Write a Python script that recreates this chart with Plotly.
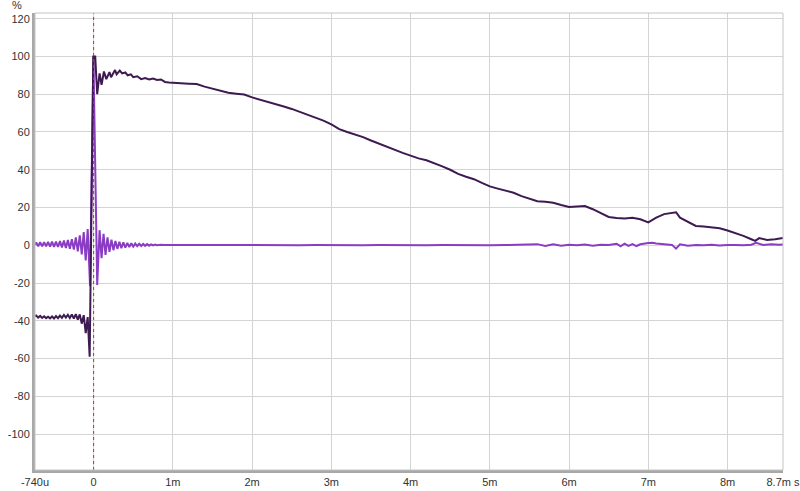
import plotly.graph_objects as go

# ---- data (time in ms, values in %) ----
step_t = [-0.74, -0.725, -0.7, -0.675, -0.65, -0.625, -0.6, -0.575, -0.55, -0.525, -0.5,
          -0.475, -0.45, -0.425, -0.4, -0.375, -0.35, -0.325, -0.3, -0.275, -0.25, -0.225,
          -0.2, -0.175, -0.15, -0.125, -0.1, -0.075, -0.05, -0.004, 0.02, 0.045, 0.075, 0.1,
          0.13, 0.16, 0.2, 0.22, 0.27, 0.29, 0.33, 0.36, 0.4, 0.43, 0.47, 0.5, 0.55, 0.6,
          0.65, 0.7, 0.75, 0.8, 0.85, 0.9, 0.95, 1.0, 1.1, 1.2, 1.3, 1.4, 1.5, 1.6, 1.7,
          1.8, 1.9, 2.0, 2.1, 2.2, 2.3, 2.4, 2.5, 2.6, 2.7, 2.8, 2.9, 3.0, 3.1, 3.2, 3.3,
          3.4, 3.5, 3.6, 3.7, 3.8, 3.9, 4.0, 4.1, 4.2, 4.3, 4.4, 4.5, 4.6, 4.7, 4.8, 4.9,
          5.0, 5.1, 5.2, 5.3, 5.4, 5.5, 5.6, 5.7, 5.8, 5.9, 6.0, 6.1, 6.2, 6.3, 6.4, 6.5,
          6.6, 6.7, 6.8, 6.9, 7.0, 7.1, 7.2, 7.3, 7.35, 7.4, 7.5, 7.6, 7.7, 7.8, 7.9, 8.0,
          8.1, 8.2, 8.3, 8.35, 8.4, 8.5, 8.6, 8.7]
step_v = [-37.5, -37.2, -38.3, -37.4, -38.5, -37.6, -38.6, -37.8, -38.7, -37.7, -38.8,
          -37.5, -38.6, -37.2, -38.4, -36.9, -38.3, -36.8, -38.5, -36.6, -38.8, -36.5,
          -39.4, -36.6, -41.5, -37.0, -46.5, -38.0, -59.0, 100.0, 100.0, 80.0, 91.0, 85.0,
          92.0, 88.0, 91.7, 89.0, 92.8, 90.5, 92.5, 91.0, 91.5, 90.0, 90.5, 89.0, 89.5, 88.0,
          88.5, 87.8, 88.3, 87.5, 87.8, 86.5, 86.2, 86.0, 85.8, 85.6, 85.4, 84.0, 83.0, 81.8, 80.8,
          80.3, 79.8, 78.3, 77.2, 76.0, 74.7, 73.5, 72.2, 70.7, 69.3, 67.8, 66.0, 64.0, 61.5, 60.0, 58.7,
          57.3, 55.5, 53.8, 52.0, 50.4, 48.9, 47.5, 46.0, 45.0, 43.5, 41.8, 40.0, 37.8, 36.3, 35.0, 33.0,
          31.2, 30.0, 29.0, 27.8, 26.0, 24.5, 23.3, 23.0, 22.5, 21.3, 20.3, 20.6, 20.8, 19.1, 17.0, 15.0,
          14.5, 14.2, 14.6, 13.8, 12.1, 14.6, 16.5, 17.4, 17.5, 14.6, 12.5, 10.2, 10.0, 9.7, 9.0, 7.8,
          6.5, 5.0, 3.2, 2.3, 3.8, 2.8, 3.2, 3.8]

imp_t = [-0.74, -0.725, -0.7, -0.675, -0.65, -0.625, -0.6, -0.575, -0.55, -0.525, -0.5,
         -0.475, -0.45, -0.425, -0.4, -0.375, -0.35, -0.325, -0.3, -0.275, -0.25, -0.225,
         -0.2, -0.175, -0.15, -0.125, -0.1, -0.075, -0.045, -0.003, 0.045, 0.075, 0.1, 0.125,
         0.15, 0.175, 0.2, 0.225, 0.25, 0.275, 0.3, 0.325, 0.35, 0.375, 0.4, 0.425, 0.45,
         0.475, 0.5, 0.525, 0.55, 0.575, 0.6, 0.625, 0.65, 0.675, 0.7, 0.725, 0.75, 0.775,
         0.8, 0.85, 0.9, 0.95, 1.0, 1.2, 1.4, 1.6, 1.8, 2.0, 2.2, 2.4, 2.6, 2.8, 3.0, 3.2,
         3.4, 3.6, 3.8, 4.0, 4.2, 4.4, 4.6, 4.8, 5.0, 5.2, 5.4, 5.6, 5.7, 5.8, 5.9, 6.0,
         6.1, 6.2, 6.3, 6.4, 6.5, 6.6, 6.65, 6.7, 6.75, 6.8, 6.85, 6.9, 7.0, 7.05, 7.1,
         7.2, 7.3, 7.35, 7.4, 7.5, 7.6, 7.7, 7.8, 7.9, 8.0, 8.1, 8.2, 8.3, 8.36, 8.45, 8.55,
         8.65, 8.7]
imp_v = [0.3, 1.5, -0.5, 1.6, -0.6, 1.7, -0.6, 1.8, -0.7, 1.9, -0.8,
         2.0, -0.9, 2.2, -1.1, 2.5, -1.4, 2.8, -1.8, 3.2, -2.3, 4.2,
         -3.2, 5.3, -4.8, 7.0, -8.0, 8.6, -21.6, 100.0, -21.0, 8.0, -6.8, 6.1,
         -5.1, 4.2, -3.5, 3.0, -2.6, 2.3, -1.9, 1.9, -1.5, 1.6, -1.2, 1.3, -0.9,
         1.1, -0.7, 0.9, -0.5, 0.8, -0.4, 0.7, -0.3, 0.6, -0.2, 0.5, -0.1, 0.4,
         0.0, 0.3, 0.1, 0.3, 0.2, 0.1, 0.2, 0.0, 0.2, 0.1, 0.0, 0.1, 0.0, 0.1, 0.0, 0.1,
         0.0, 0.1, 0.0, 0.1, 0.0, 0.1, 0.0, 0.1, 0.0, 0.1, 0.2, 0.6, -0.4, 0.5, -0.2, 0.3,
         0.0, 0.4, -0.2, 0.3, 0.1, 0.8, -0.5, 0.9, -0.3, 0.6, -0.4, 0.5, 1.2, 1.3, 0.9,
         0.4, 0.2, -1.8, 0.5, -0.3, 0.2, 0.0, 0.3, -0.1, 0.2, 0.1, 0.0, 0.3, 1.3, 0.2, 0.5,
         0.3, 0.4]

x_tickvals = [-0.74, 0, 1, 2, 3, 4, 5, 6, 7, 8, 8.7]
x_ticktext = ["-740u", "0", "1m", "2m", "3m", "4m", "5m", "6m", "7m", "8m", "8.7m s"]
y_tickvals = [-100, -80, -60, -40, -20, 0, 20, 40, 60, 80, 100, 120]
y_ticktext = [str(v) for v in y_tickvals]

fig = go.Figure()
fig.add_trace(go.Scatter(x=imp_t, y=imp_v, mode="lines",
                         line=dict(color="#8a3dc4", width=2), showlegend=False))
fig.add_trace(go.Scatter(x=step_t, y=step_v, mode="lines",
                         line=dict(color="#3d1a4f", width=2), showlegend=False))

# red dotted marker at t = 0
fig.add_shape(type="line", xref="x", yref="paper", x0=0, x1=0, y0=0, y1=1,
              line=dict(color="#c0302a", width=1, dash="dot"))
# thin top/right frame
fig.add_shape(type="rect", xref="paper", yref="paper", x0=0, x1=1, y0=0, y1=1,
              line=dict(color="#c4c4c4", width=1))

font = dict(family="Liberation Sans, Arial, sans-serif", size=11, color="#333333")
fig.update_layout(
    width=800, height=491,
    margin=dict(l=35, r=17, t=13, b=21, autoexpand=False),
    paper_bgcolor="white", plot_bgcolor="white",
    font=font,
    xaxis=dict(range=[-0.74, 8.7], tickvals=x_tickvals, ticktext=x_ticktext,
               showgrid=True, gridcolor="#d4d4d4", gridwidth=1, zeroline=False,
               showline=True, linecolor="#a8a8a8", linewidth=3, ticks="",
               automargin=False, ticklabeloverflow="allow", tickfont=font),
    yaxis=dict(range=[-119, 123], tickvals=y_tickvals, ticktext=y_ticktext,
               showgrid=True, gridcolor="#d4d4d4", gridwidth=1, zeroline=False,
               showline=True, linecolor="#a8a8a8", linewidth=3, ticks="",
               automargin=False, ticklabeloverflow="allow", tickfont=font),
    annotations=[dict(text="%", xref="paper", yref="paper", x=-0.024, y=1.0,
                      xanchor="center", yanchor="bottom", showarrow=False, font=font)],
)

fig.write_html("out.html", config={"displayModeBar": False},
               post_script="document.body.style.margin='0';document.body.style.padding='0';")
